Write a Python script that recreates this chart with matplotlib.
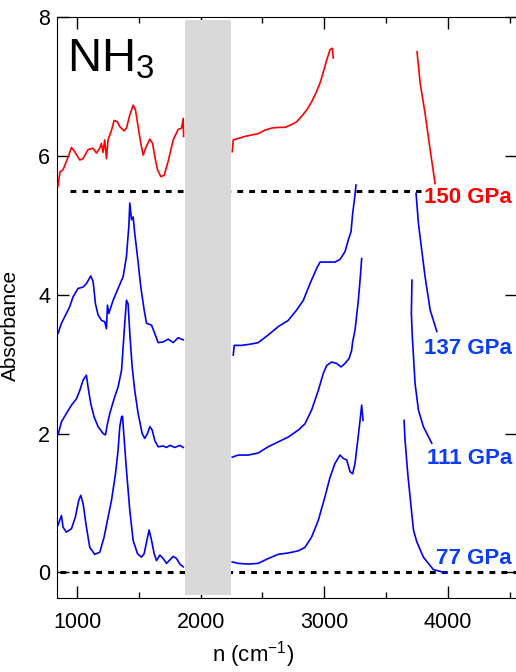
import matplotlib
matplotlib.use("Agg")
import matplotlib.pyplot as plt
from matplotlib.ticker import MultipleLocator

plt.rcParams['font.family'] = ['Liberation Sans', 'DejaVu Sans']
plt.rcParams['mathtext.fontset'] = 'custom'
plt.rcParams['mathtext.rm'] = 'Liberation Sans'
plt.rcParams['mathtext.it'] = 'Liberation Sans:italic'

# spectra, one list of (wavenumber, absorbance) per window; the diamond
# absorption region 1870-2245 cm-1 and the strong N-H stretch are cut out
red_150_a = [(846, 5.56), (862, 5.77), (887, 5.80), (914, 5.92), (933, 6.01), (955, 6.12),
             (981, 6.06), (1022, 5.94), (1049, 5.96), (1089, 6.09), (1130, 6.11), (1157, 6.04),
             (1184, 6.11), (1197, 6.18), (1210, 6.05), (1224, 6.23), (1238, 5.96), (1251, 6.23),
             (1279, 6.37), (1300, 6.51), (1327, 6.49), (1346, 6.42), (1381, 6.36), (1400, 6.40),
             (1427, 6.59), (1454, 6.73), (1473, 6.66), (1494, 6.42), (1516, 6.18), (1535, 6.01),
             (1554, 6.11), (1589, 6.24), (1611, 6.18), (1629, 5.99), (1651, 5.80), (1678, 5.70),
             (1705, 5.72), (1737, 5.92), (1778, 6.23), (1818, 6.38), (1846, 6.40), (1859, 6.54),
             (1862, 6.28)]
red_150_b = [(2256, 6.06), (2264, 6.23), (2304, 6.25), (2358, 6.28), (2412, 6.30), (2466, 6.32),
             (2520, 6.37), (2574, 6.40), (2628, 6.41), (2682, 6.41), (2736, 6.45), (2777, 6.49),
             (2817, 6.57), (2858, 6.66), (2898, 6.78), (2939, 6.93), (2966, 7.05), (2993, 7.21),
             (3020, 7.38), (3047, 7.53), (3066, 7.55), (3073, 7.41)]
red_150_c = [(3751, 7.50), (3776, 7.05), (3816, 6.61), (3857, 6.09), (3897, 5.60)]

blue_137_a = [(846, 3.44), (874, 3.59), (914, 3.73), (941, 3.83), (968, 3.97), (1008, 4.09),
              (1049, 4.11), (1076, 4.16), (1111, 4.27), (1130, 4.19), (1149, 3.87), (1170, 3.71),
              (1198, 3.63), (1224, 3.61), (1238, 3.51), (1246, 3.85), (1257, 3.73), (1292, 3.92),
              (1332, 4.09), (1373, 4.26), (1400, 4.55), (1408, 4.74), (1419, 4.98), (1427, 5.32),
              (1441, 5.08), (1454, 5.12), (1467, 4.88), (1489, 4.55), (1516, 4.11), (1543, 3.78),
              (1562, 3.59), (1603, 3.56), (1629, 3.44), (1656, 3.31), (1697, 3.32), (1737, 3.36),
              (1778, 3.31), (1818, 3.38), (1859, 3.35)]
blue_137_b = [(2264, 3.13), (2272, 3.27), (2331, 3.27), (2412, 3.29), (2466, 3.31), (2547, 3.42),
              (2628, 3.54), (2709, 3.63), (2777, 3.78), (2831, 3.92), (2885, 4.16), (2939, 4.38),
              (2966, 4.47), (3020, 4.47), (3087, 4.47), (3128, 4.51), (3168, 4.62), (3195, 4.79),
              (3217, 4.91), (3230, 5.17), (3244, 5.36), (3257, 5.58)]
blue_137_c = [(3743, 5.46), (3762, 5.03), (3789, 4.64), (3816, 4.26), (3857, 3.78), (3911, 3.47)]

blue_111_a = [(849, 2.00), (874, 2.17), (914, 2.29), (955, 2.41), (995, 2.50), (1022, 2.62),
              (1049, 2.77), (1076, 2.84), (1089, 2.67), (1111, 2.43), (1138, 2.24), (1170, 2.10),
              (1211, 2.00), (1230, 1.98), (1246, 2.14), (1265, 2.29), (1305, 2.53), (1332, 2.67),
              (1360, 2.91), (1373, 3.25), (1386, 3.59), (1400, 3.92), (1413, 3.87), (1427, 3.44),
              (1446, 2.96), (1467, 2.62), (1494, 2.29), (1527, 2.00), (1548, 1.93), (1570, 2.00),
              (1589, 2.10), (1608, 2.05), (1629, 1.90), (1656, 1.81), (1697, 1.82), (1724, 1.80),
              (1751, 1.83), (1791, 1.80), (1832, 1.83), (1859, 1.80)]
blue_111_b = [(2256, 1.66), (2304, 1.69), (2385, 1.69), (2466, 1.72), (2547, 1.81), (2628, 1.88),
              (2709, 1.95), (2790, 2.05), (2844, 2.14), (2898, 2.34), (2952, 2.62), (2993, 2.87),
              (3020, 2.98), (3060, 3.03), (3101, 3.01), (3136, 2.96), (3168, 3.01), (3201, 3.08),
              (3222, 3.20), (3230, 3.32), (3250, 3.50), (3276, 3.92), (3290, 4.21), (3303, 4.52)]
blue_111_c = [(3710, 4.21), (3705, 3.73), (3713, 3.39), (3735, 2.72), (3762, 2.34), (3802, 2.10),
              (3870, 1.86)]

blue_77_a = [(846, 0.68), (874, 0.82), (887, 0.65), (914, 0.58), (955, 0.63), (987, 0.80),
             (1014, 1.04), (1030, 1.11), (1049, 0.99), (1076, 0.65), (1103, 0.36), (1143, 0.26),
             (1184, 0.29), (1219, 0.51), (1246, 0.75), (1279, 1.04), (1311, 1.42), (1332, 1.76),
             (1346, 2.10), (1360, 2.24), (1368, 2.25), (1378, 2.00), (1400, 1.47), (1427, 0.89),
             (1454, 0.46), (1489, 0.27), (1521, 0.22), (1543, 0.27), (1565, 0.46), (1583, 0.61),
             (1603, 0.46), (1624, 0.27), (1643, 0.17), (1670, 0.25), (1697, 0.20), (1724, 0.13),
             (1751, 0.18), (1778, 0.23), (1805, 0.20), (1832, 0.12), (1859, 0.08)]
blue_77_b = [(2256, 0.15), (2304, 0.13), (2385, 0.12), (2466, 0.13), (2547, 0.20), (2628, 0.26),
             (2709, 0.28), (2790, 0.31), (2844, 0.36), (2898, 0.51), (2952, 0.75), (3006, 1.09),
             (3047, 1.37), (3087, 1.57), (3128, 1.69), (3155, 1.64), (3182, 1.62), (3209, 1.45),
             (3230, 1.42), (3249, 1.57), (3271, 1.90), (3290, 2.19), (3303, 2.41), (3314, 2.19)]
blue_77_c = [(3646, 2.19), (3654, 1.90), (3676, 1.42), (3703, 0.94), (3722, 0.61), (3749, 0.44),
             (3802, 0.22), (3883, 0.04), (3991, -0.01)]

pressures = ["150 GPa", "137 GPa", "111 GPa", "77 GPa"]
label_y = [5.40, 3.23, 1.64, 0.20]
baselines = [5.5, 0.0]


def plot_segments(ax, segments, color):
    """ draw each measured window of one spectrum """
    for seg in segments:
        xs = [p[0] for p in seg]
        ys = [p[1] for p in seg]
        ax.plot(xs, ys, color=color, lw=1.2, zorder=3)


fig = plt.figure(figsize=(5.16, 6.72), dpi=100)
ax = fig.add_axes([0.1105, 0.110, 0.8915, 0.8647])

# dashed zero lines for the 150 GPa and 77 GPa spectra
ax.plot([940, 3780], [baselines[0]] * 2, color="black", lw=2.2,
        linestyle=(0, (1.9, 2.0)), zorder=1)
ax.plot([860, 4600], [baselines[1]] * 2, color="black", lw=2.2,
        linestyle=(0, (1.9, 2.0)), zorder=1)

# diamond absorption window
ax.axvspan(1874, 2245, ymin=(-0.33 + 0.37) / 8.37, ymax=(7.95 + 0.37) / 8.37,
           color="#d9d9d9", lw=0, zorder=2)

plot_segments(ax, [red_150_a, red_150_b, red_150_c], "#ff0000")
plot_segments(ax, [blue_137_a, blue_137_b, blue_137_c], "#0000ff")
plot_segments(ax, [blue_111_a, blue_111_b, blue_111_c], "#0000ff")
plot_segments(ax, [blue_77_a, blue_77_b, blue_77_c], "#0000ff")

label_colors = ["#ff0000", "#0a3cff", "#0a3cff", "#0a3cff"]
for name, y, c in zip(pressures, label_y, label_colors):
    ax.text(4520, y, name, color=c, fontsize=16, fontweight="bold",
            ha="right", va="center", zorder=4)

ax.text(917, 7.21, "NH$_3$", fontsize=34, va="baseline", ha="left")

ax.set_xlim(838, 4560)
ax.set_ylim(-0.37, 8)
ax.xaxis.set_major_locator(MultipleLocator(1000))
ax.xaxis.set_minor_locator(MultipleLocator(500))
ax.yaxis.set_major_locator(MultipleLocator(2))
ax.tick_params(which="both", direction="in", top=True, right=True, labelsize=15.5)
ax.tick_params(which="major", length=8.5, width=1)
ax.tick_params(which="minor", length=4.5, width=1)
ax.tick_params(axis="x", pad=10)
ax.tick_params(axis="y", pad=5)
ax.spines["right"].set_visible(False)

ax.set_ylabel("Absorbance", fontsize=15)
ax.yaxis.set_label_coords(-0.08, 0.47)
ax.set_xlabel("n (cm$^{-1}$)", fontsize=16)
ax.xaxis.set_label_coords(0.427, -0.07)

fig.savefig("out.png", dpi=100)
